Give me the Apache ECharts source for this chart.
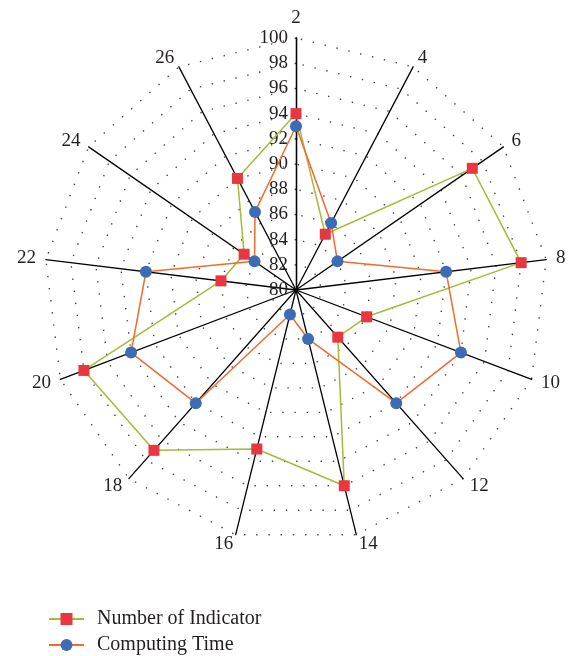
<!DOCTYPE html>
<html>
<head>
<meta charset="utf-8">
<script src="https://cdn.jsdelivr.net/npm/echarts@6/dist/echarts.min.js"></script>
<style>html,body{margin:0;padding:0;background:#fff}#c{width:570px;height:656px}</style>
</head>
<body>
<div id="c"></div>
<script>
const categories = [2, 4, 6, 8, 10, 12, 14, 16, 18, 20, 22, 24, 26];
const numberOfIndicator = [94, 85, 97, 98, 86, 85, 96, 93, 97, 98, 86, 85, 90];
const computingTime = [93, 86, 84, 92, 94, 92, 84, 82, 92, 94, 92, 84, 87];
const radialTicks = [80, 82, 84, 86, 88, 90, 92, 94, 96, 98, 100];
const seriesNames = ['Number of Indicator', 'Computing Time'];

// ECharts radar runs counter-clockwise; reorder so categories go clockwise from the top
const order = [0].concat(categories.map((_, i) => i).slice(1).reverse());
const reorder = arr => order.map(i => arr[i]);

const FONT = 'Liberation Serif';
const TXT = '#231f20';
const RED = '#e8373e', GREEN = '#a9b936', BLUE = '#3c6cb6', ORANGE = '#f26a2e';

const chart = echarts.init(document.getElementById('c'));
chart.setOption({
  animation: false,
  backgroundColor: '#fff',
  grid: {left: 0, top: 0, width: 1, height: 1, show: false},
  xAxis: {show: false, type: 'value'},
  yAxis: {show: false, type: 'value'},
  legend: {
    data: seriesNames,
    orient: 'vertical',
    left: 48,
    top: 609,
    padding: 0,
    itemWidth: 35,
    itemHeight: 15,
    itemGap: 6,
    textStyle: {fontFamily: FONT, fontSize: 20, color: TXT, padding: [0, 0, 0, 8]},
    selectedMode: false
  },
  radar: {
    center: [296, 290],
    radius: 252,
    startAngle: 90,
    shape: 'polygon',
    splitNumber: 10,
    nameGap: 10,
    indicator: reorder(categories).map(c => ({name: String(c), min: radialTicks[0], max: radialTicks[radialTicks.length - 1]})),
    axisName: {color: TXT, fontSize: 19, fontFamily: FONT},
    axisLine: {lineStyle: {color: '#000', width: 1.3}},
    splitLine: {lineStyle: {color: '#444', width: 1.4, type: [1.4, 10.8]}},
    splitArea: {show: false},
    axisTick: {show: false},
    axisLabel: {show: false}
  },
  polar: {center: [296, 290], radius: 252},
  angleAxis: {type: 'value', min: 0, max: 360, startAngle: 90, show: false},
  radiusAxis: {
    type: 'value',
    min: radialTicks[0],
    max: radialTicks[radialTicks.length - 1],
    interval: 2,
    axisLine: {show: true, lineStyle: {color: '#000', width: 1.3}},
    axisTick: {show: false},
    splitLine: {show: false},
    axisLabel: {fontFamily: FONT, fontSize: 19, color: TXT, margin: 8,
      formatter: v => radialTicks.indexOf(v) >= 0 ? String(v) : ''}
  },
  series: [
    {name: seriesNames[0], type: 'line', data: [], symbol: 'rect', symbolSize: 11,
     itemStyle: {color: RED}, lineStyle: {color: GREEN, width: 1.5}},
    {name: seriesNames[1], type: 'line', data: [], symbol: 'circle', symbolSize: 12,
     itemStyle: {color: BLUE}, lineStyle: {color: ORANGE, width: 1.5}},
    {name: seriesNames[0], type: 'radar', symbol: 'rect', symbolSize: 11,
     itemStyle: {color: RED}, lineStyle: {color: GREEN, width: 1.5},
     data: [{value: reorder(numberOfIndicator), name: seriesNames[0]}]},
    {name: seriesNames[1], type: 'radar', symbol: 'circle', symbolSize: 12,
     itemStyle: {color: BLUE}, lineStyle: {color: ORANGE, width: 1.5},
     data: [{value: reorder(computingTime), name: seriesNames[1]}]}
  ]
});
</script>
</body>
</html>
